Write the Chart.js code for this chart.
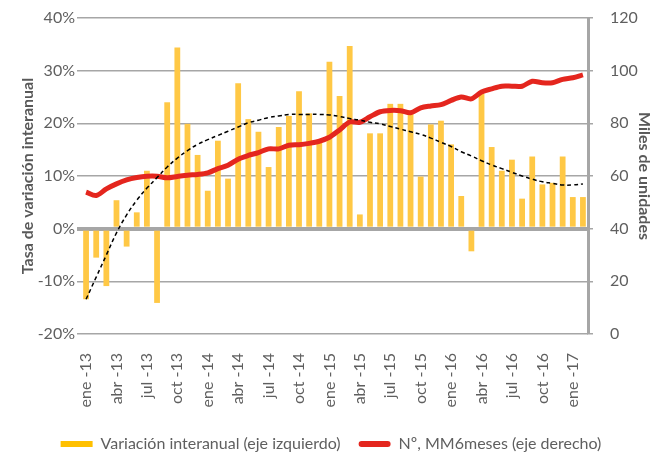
<!DOCTYPE html>
<html>
<head>
<meta charset="utf-8">
<script src="https://cdn.jsdelivr.net/npm/chart.js@4"></script>
<style>
  body { margin: 0; background: #fff; }
  #wrap { width: 662px; height: 453px; }
</style>
</head>
<body>
<div id="wrap"><canvas id="myChart"></canvas></div>
<script>
const months = ['ene -13','feb -13','mar -13','abr -13','may -13','jun -13','jul -13','ago -13','sep -13','oct -13','nov -13','dic -13',
  'ene -14','feb -14','mar -14','abr -14','may -14','jun -14','jul -14','ago -14','sep -14','oct -14','nov -14','dic -14',
  'ene -15','feb -15','mar -15','abr -15','may -15','jun -15','jul -15','ago -15','sep -15','oct -15','nov -15','dic -15',
  'ene -16','feb -16','mar -16','abr -16','may -16','jun -16','jul -16','ago -16','sep -16','oct -16','nov -16','dic -16',
  'ene -17','feb -17']

// variación interanual, % (eje izquierdo)
const variacion = [-13.4, -5.5, -10.9, 5.4, -3.4, 3.1, 11.0, -14.1, 24.0, 34.4, 19.9, 14.0,
  7.2, 16.7, 9.5, 27.6, 20.8, 18.4, 11.7, 19.3, 21.4, 26.1, 21.9, 16.9,
  31.7, 25.2, 34.7, 2.7, 18.1, 18.1, 23.7, 23.7, 21.8, 9.9, 19.8, 20.5,
  16.0, 6.2, -4.3, 25.6, 15.5, 11.0, 13.1, 5.7, 13.7, 8.4, 8.7, 13.7,
  6.0, 6.0]

// Nº, media móvil 6 meses, miles (eje derecho)
const mm6 = [53.9, 52.6, 55.1, 57.0, 58.5, 59.4, 59.9, 59.9, 59.3, 59.8, 60.3, 60.6,
  61.2, 62.8, 64.1, 66.4, 67.8, 68.9, 70.3, 70.3, 71.7, 71.9, 72.4, 73.2,
  74.7, 77.5, 80.5, 80.4, 82.5, 84.4, 84.9, 84.8, 84.0, 85.9, 86.6, 87.1,
  88.7, 90.0, 89.3, 91.9, 93.1, 94.1, 94.1, 94.1, 96.0, 95.4, 95.4, 96.7,
  97.3, 98.4]

// tendencia de la variación, % (eje izquierdo)
const tendencia = [-13.4, -9.2, -5.0, -0.8, 2.6, 5.4, 7.7, 9.7, 11.7, 13.4, 14.8, 16.0,
  16.9, 17.7, 18.5, 19.3, 20.1, 20.6, 21.1, 21.4, 21.7, 21.7, 21.7, 21.7,
  21.6, 21.3, 20.9, 20.6, 20.2, 19.9, 19.4, 18.9, 18.4, 17.9, 17.2, 16.4,
  15.6, 14.6, 13.8, 12.9, 12.1, 11.4, 10.7, 10.0, 9.4, 8.9, 8.6, 8.3,
  8.3, 8.5]

const gris = '#a6a6a6'
const texto = '#5f5f5f'

Chart.defaults.font.family = 'Lato'
Chart.defaults.font.size = 16
Chart.defaults.color = texto

const ctx = document.getElementById('myChart')

new Chart(ctx, {
  type: 'bar',
  data: {
    labels: months,
    datasets: [{
      label: 'Variación interanual (eje izquierdo)',
      data: variacion,
      backgroundColor: '#ffc845',
      yAxisID: 'y',
      barPercentage: 0.57,
      categoryPercentage: 1,
      order: 2
    }, {
      type: 'line',
      label: 'Nº, MM6meses (eje derecho)',
      data: mm6,
      borderColor: '#e4261e',
      borderWidth: 5,
      pointRadius: 0,
      tension: 0.3,
      yAxisID: 'y1',
      order: 1
    }, {
      type: 'line',
      label: 'tendencia',
      data: tendencia,
      borderColor: '#000',
      borderWidth: 1.5,
      borderDash: [4, 3],
      pointRadius: 0,
      tension: 0.4,
      yAxisID: 'y',
      order: 0
    }]
  },
  options: {
    responsive: true,
    maintainAspectRatio: false,
    animation: false,
    layout: { padding: { top: 18, left: 0, right: 0, bottom: -9 } },
    plugins: {
      tooltip: { enabled: false },
      legend: {
        position: 'bottom',
        labels: {
          boxWidth: 32,
          boxHeight: 6,
          padding: 18,
          useBorderRadius: true,
          color: texto,
          font: { size: 16 },
          generateLabels: (chart) => [
            { text: 'Variación interanual (eje izquierdo)', fillStyle: '#ffc000', strokeStyle: '#ffc000', lineWidth: 0, borderRadius: 0, datasetIndex: 0, fontColor: texto },
            { text: 'Nº, MM6meses (eje derecho)', fillStyle: '#e4261e', strokeStyle: '#e4261e', lineWidth: 0, borderRadius: 3, datasetIndex: 1, fontColor: texto }
          ]
        }
      }
    },
    scales: {
      x: {
        offset: true,
        grid: { display: false, drawTicks: false },
        border: { display: false },
        afterFit: (scale) => { scale.height = 84 },
        ticks: {
          autoSkip: false,
          minRotation: 90,
          maxRotation: 90,
          padding: 19,
          color: texto,
          font: { size: 16 },
          callback: function (value, index) {
            return index % 3 === 0 ? months[index] : ''
          }
        }
      },
      y: {
        position: 'left',
        min: -20,
        max: 40,
        afterFit: (scale) => { scale.width = 81 },
        ticks: {
          stepSize: 10,
          padding: 2,
          color: texto,
          font: { size: 16 },
          callback: (v) => v + '%'
        },
        grid: {
          color: gris,
          lineWidth: (c) => (c.tick && c.tick.value === 0 ? 4 : 1.5),
          tickLength: 4
        },
        border: { display: false },
        title: {
          display: true,
          text: 'Tasa de variación interanual',
          color: '#595959',
          font: { size: 16, weight: 'bold' },
          padding: { top: 18, bottom: 0 }
        }
      },
      y1: {
        position: 'right',
        min: 0,
        max: 120,
        afterFit: (scale) => {
          scale.width = 74
          // the wide label padding should not push the plot down
          scale.paddingTop = 10
          scale.paddingBottom = 10
        },
        ticks: {
          stepSize: 20,
          padding: 17,
          color: texto,
          font: { size: 16 }
        },
        grid: {
          drawOnChartArea: false,
          color: gris,
          lineWidth: 1.5,
          tickLength: 5
        },
        border: { display: true, color: gris, width: 3 },
        title: {
          display: true,
          text: 'Miles de unidades',
          color: '#595959',
          font: { size: 16, weight: 'bold' },
          padding: { top: 8, bottom: 0 }
        }
      }
    }
  }
})
</script>
</body>
</html>
